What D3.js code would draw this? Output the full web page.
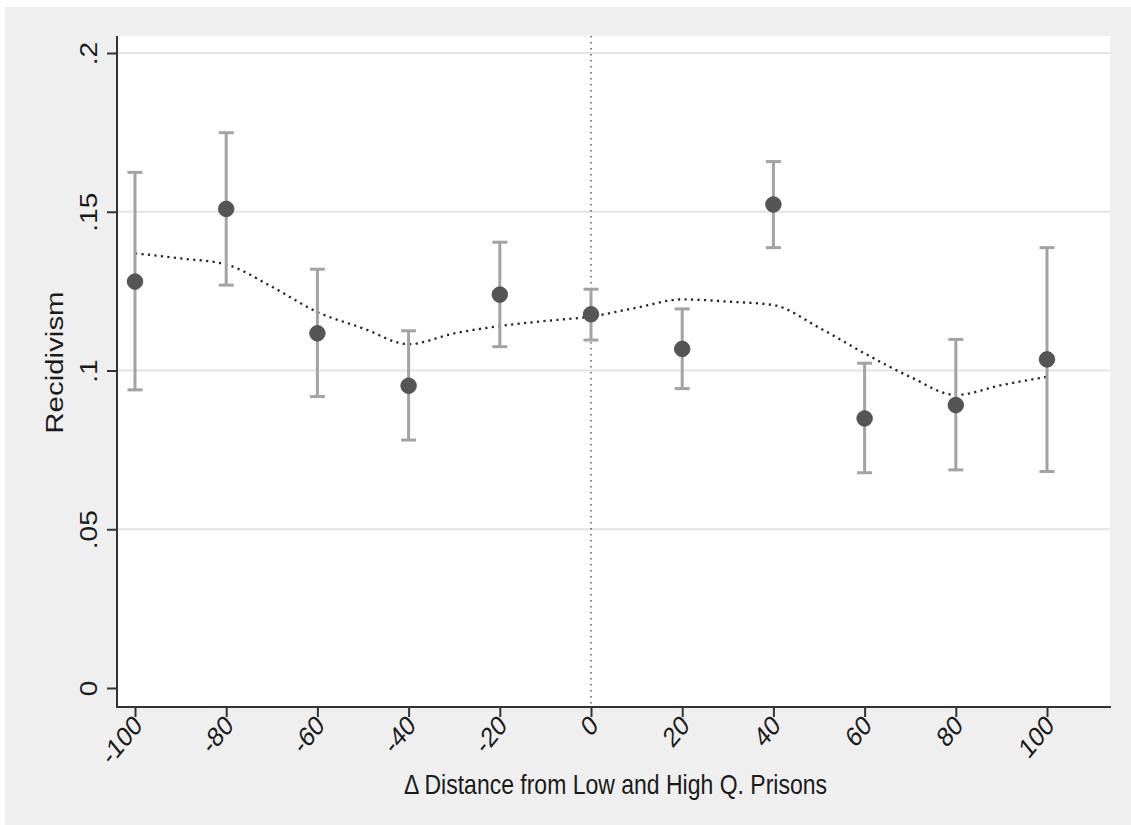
<!DOCTYPE html>
<html>
<head>
<meta charset="utf-8">
<script src="https://cdn.jsdelivr.net/npm/d3@7"></script>
<style>
  html, body { margin: 0; padding: 0; background: #ffffff; }
  svg { display: block; }
  text { font-family: "Liberation Sans", Arial, Helvetica, sans-serif; fill: #1a1a1a; }
</style>
</head>
<body>
<svg id="chart" width="1131" height="825"></svg>
<script>
// Binned recidivism by distance difference, with 95% intervals
const distances = [-100, -80, -60, -40, -20, 0, 20, 40, 60, 80, 100];
const recidivism = [0.1280, 0.1509, 0.1117, 0.0952, 0.1239, 0.1177, 0.1068, 0.1523, 0.0849, 0.0891, 0.1035];
const ciUpper = [0.1624, 0.1749, 0.1319, 0.1125, 0.1404, 0.1256, 0.1194, 0.1658, 0.1023, 0.1098, 0.1387];
const ciLower = [0.0939, 0.1269, 0.0918, 0.0781, 0.1075, 0.1096, 0.0943, 0.1387, 0.0678, 0.0687, 0.0682];

// Smoothed fit evaluated on a finer grid
const fitX = [-100, -90, -80, -70, -60, -50, -40, -30, -20, -10, 0, 10, 20, 30, 40, 50, 60, 70, 80, 90, 100];
const fitY = [0.1369, 0.1353, 0.1334, 0.1264, 0.1184, 0.1133, 0.1083, 0.1117, 0.1140, 0.1156, 0.1170,
              0.1198, 0.1224, 0.1217, 0.1206, 0.1135, 0.1054, 0.0980, 0.0923, 0.0954, 0.0980];

const xTicks = [-100, -80, -60, -40, -20, 0, 20, 40, 60, 80, 100];
const yTicks = [0, 0.05, 0.1, 0.15, 0.2];
const yTickLabels = ["0", ".05", ".1", ".15", ".2"];
const xTitle = "\u0394 Distance from Low and High Q. Prisons";
const yTitle = "Recidivism";
const refLine = 0;

const svg = d3.select("#chart");

// Plot region bounds
const plot = { left: 117, right: 1110, top: 36, bottom: 707 };

const x = d3.scaleLinear().domain([-100, 100]).range([135, 1047]);
const y = d3.scaleLinear().domain([0, 0.2]).range([688, 53]);

// Text is slightly taller than wide
const sy = 1.22;
const fs = 23;

// Background panels
svg.append("rect").attr("x", 5).attr("y", 7).attr("width", 1126).attr("height", 818).attr("fill", "#efefef");
svg.append("rect").attr("x", plot.left).attr("y", plot.top)
  .attr("width", plot.right - plot.left).attr("height", plot.bottom - plot.top).attr("fill", "#ffffff");

// Horizontal gridlines
svg.append("g").selectAll("line").data(yTicks.filter(d => d > 0)).join("line")
  .attr("x1", plot.left).attr("x2", plot.right)
  .attr("y1", d => y(d)).attr("y2", d => y(d))
  .attr("stroke", "#e3e3e3").attr("stroke-width", 2);

// Reference line at zero distance
svg.append("line")
  .attr("x1", x(refLine)).attr("x2", x(refLine))
  .attr("y1", plot.top).attr("y2", plot.bottom)
  .attr("stroke", "#666").attr("stroke-width", 1.6).attr("stroke-dasharray", "1.6 4.4");

// Smoothed fit
const fitLine = d3.line().x(d => x(d[0])).y(d => y(d[1])).curve(d3.curveMonotoneX);
svg.append("path")
  .datum(fitX.map((v, i) => [v, fitY[i]]))
  .attr("d", fitLine)
  .attr("fill", "none").attr("stroke", "#262626").attr("stroke-width", 2.3)
  .attr("stroke-dasharray", "2.2 4.3");

// Confidence intervals
const bars = svg.append("g").attr("stroke", "#a3a3a3").attr("stroke-width", 3);
distances.forEach((d, i) => {
  bars.append("line").attr("x1", x(d)).attr("x2", x(d)).attr("y1", y(ciLower[i])).attr("y2", y(ciUpper[i]));
  bars.append("line").attr("x1", x(d) - 7.5).attr("x2", x(d) + 7.5).attr("y1", y(ciLower[i])).attr("y2", y(ciLower[i]));
  bars.append("line").attr("x1", x(d) - 7.5).attr("x2", x(d) + 7.5).attr("y1", y(ciUpper[i])).attr("y2", y(ciUpper[i]));
});

// Point estimates
svg.append("g").selectAll("circle").data(distances).join("circle")
  .attr("cx", d => x(d)).attr("cy", (d, i) => y(recidivism[i]))
  .attr("r", 7.8).attr("fill", "#555555").attr("stroke", "#4a4a4a").attr("stroke-width", 0.8);

// Axis lines
svg.append("line").attr("x1", plot.left).attr("x2", plot.left).attr("y1", plot.top).attr("y2", plot.bottom + 1)
  .attr("stroke", "#333").attr("stroke-width", 2);
svg.append("line").attr("x1", plot.left).attr("x2", plot.right + 1).attr("y1", plot.bottom).attr("y2", plot.bottom)
  .attr("stroke", "#333").attr("stroke-width", 2);

// Y axis ticks
const yAxis = d3.axisLeft(y).tickValues(yTicks).tickSize(10).tickFormat((d, i) => yTickLabels[i]);
const gy = svg.append("g").attr("transform", `translate(${plot.left},0)`).call(yAxis);
gy.select(".domain").remove();
gy.selectAll(".tick line").attr("stroke", "#333").attr("stroke-width", 2);
gy.selectAll(".tick text")
  .attr("x", null).attr("dy", null)
  .attr("font-size", fs).attr("fill", "#1a1a1a")
  .attr("text-anchor", "middle")
  .attr("transform", `translate(-20,0) scale(1,${sy}) rotate(-90)`);

// X axis ticks
const xAxis = d3.axisBottom(x).tickValues(xTicks).tickSize(10).tickFormat(d3.format("d"));
const gx = svg.append("g").attr("transform", `translate(0,${plot.bottom})`).call(xAxis);
gx.select(".domain").remove();
gx.selectAll(".tick line").attr("stroke", "#333").attr("stroke-width", 2);
gx.selectAll(".tick text")
  .attr("y", null).attr("dy", null)
  .attr("font-size", fs).attr("fill", "#1a1a1a")
  .attr("text-anchor", "end")
  .attr("transform", `translate(8,20) scale(1,${sy}) rotate(-45)`)
  .text(d => d3.format("d")(d).replace("\u2212", "-"));

// Axis titles
svg.append("text")
  .attr("transform", `translate(${(plot.left + plot.right) / 2 + 2},794) scale(1,${sy})`)
  .attr("text-anchor", "middle").attr("font-size", fs).text(xTitle);

svg.append("text")
  .attr("transform", `translate(63,${y(0.1) - 8}) scale(1,${sy + 0.06}) rotate(-90)`)
  .attr("text-anchor", "middle").attr("font-size", fs).text(yTitle);
</script>
</body>
</html>
